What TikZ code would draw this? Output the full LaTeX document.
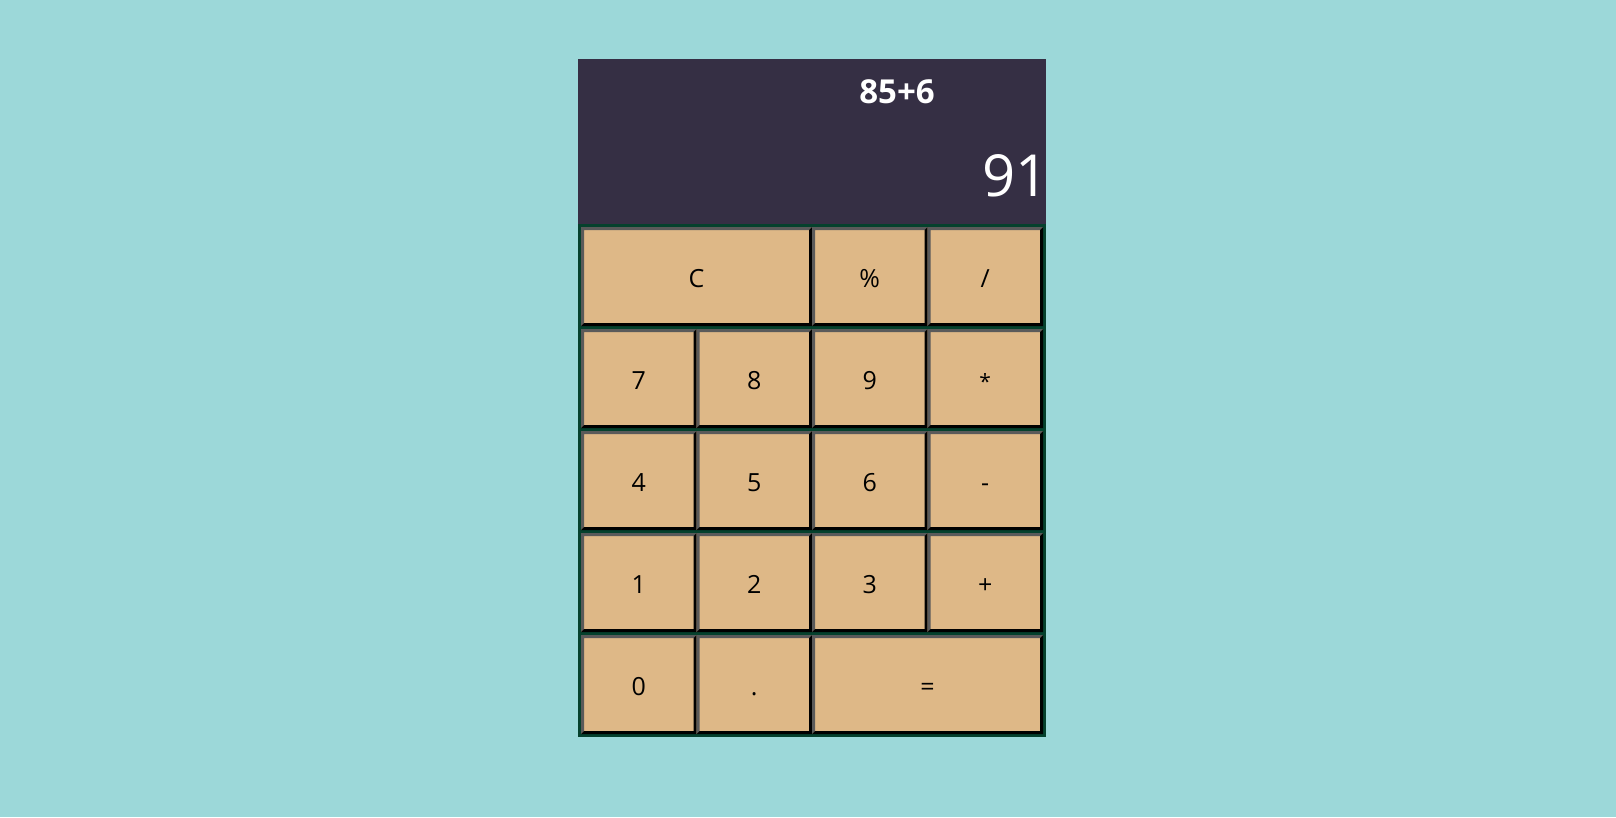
\documentclass[tikz,border=0pt]{standalone}
\usepackage{fontspec}
\setmainfont{Open Sans}
\definecolor{bgteal}{RGB}{156,216,217}
\definecolor{dispdark}{RGB}{53,47,68}
\definecolor{padgreen}{RGB}{5,65,45}
\definecolor{btnfill}{RGB}{222,184,135}
\definecolor{btngray}{RGB}{90,90,90}
\tikzset{
  calckey/.style={draw=none, fill=btnfill, minimum width=#1, minimum height=99pt,
    inner sep=0pt, text height=21pt, text depth=0pt,
    font=\fontsize{25}{30}\selectfont, text=black,
    path picture={
      \fill[btngray] (path picture bounding box.north west) -- (path picture bounding box.north east)
        -- ([shift={(-3pt,-3pt)}]path picture bounding box.north east)
        -- ([shift={(3pt,-3pt)}]path picture bounding box.north west)
        -- ([shift={(3pt,3pt)}]path picture bounding box.south west)
        -- (path picture bounding box.south west) -- cycle;
      \fill[black] (path picture bounding box.south east) -- (path picture bounding box.north east)
        -- ([shift={(-3pt,-3pt)}]path picture bounding box.north east)
        -- ([shift={(-3pt,3pt)}]path picture bounding box.south east)
        -- ([shift={(3pt,3pt)}]path picture bounding box.south west)
        -- (path picture bounding box.south west) -- cycle;
    }},
  calckey/.default=115.5pt
}
\begin{document}
\begin{tikzpicture}[x=1pt,y=-1pt]
\useasboundingbox (0,0) rectangle (1616,817);
\fill[bgteal] (0,0) rectangle (1616,817);
% display
\fill[dispdark] (578,59) rectangle (1046,224);
\node[anchor=base, text=white, font=\fontsize{33}{38}\selectfont\bfseries] (expr) at (897,103) {85+6};
\node[anchor=base east, text=white, font=\fontsize{58}{66}\selectfont, inner sep=0pt] (result) at (1049,196) {91};
% keypad
\fill[padgreen] (578,224) rectangle (1046,737);
% row 1
\node[calckey=231pt] (kc) at (696.5,276.5) {C};
\node[calckey] (kpct) at (869.75,276.5) {\%};
\node[calckey] (kdiv) at (985.25,276.5) {/};
% row 2
\node[calckey] (k7) at (638.75,378.5) {7};
\node[calckey] (k8) at (754.25,378.5) {8};
\node[calckey] (k9) at (869.75,378.5) {9};
\node[calckey] (kmul) at (985.25,378.5) {{\fontsize{21}{25}\selectfont *}};
% row 3
\node[calckey] (k4) at (638.75,480.5) {4};
\node[calckey] (k5) at (754.25,480.5) {5};
\node[calckey] (k6) at (869.75,480.5) {6};
\node[calckey] (ksub) at (985.25,480.5) {-};
% row 4
\node[calckey] (k1) at (638.75,582.5) {1};
\node[calckey] (k2) at (754.25,582.5) {2};
\node[calckey] (k3) at (869.75,582.5) {3};
\node[calckey] (kadd) at (985.25,582.5) {+};
% row 5
\node[calckey] (k0) at (638.75,684.5) {0};
\node[calckey] (kdot) at (754.25,684.5) {.};
\node[calckey=231pt] (keq) at (927.5,684.5) {=};
\end{tikzpicture}
\end{document}
